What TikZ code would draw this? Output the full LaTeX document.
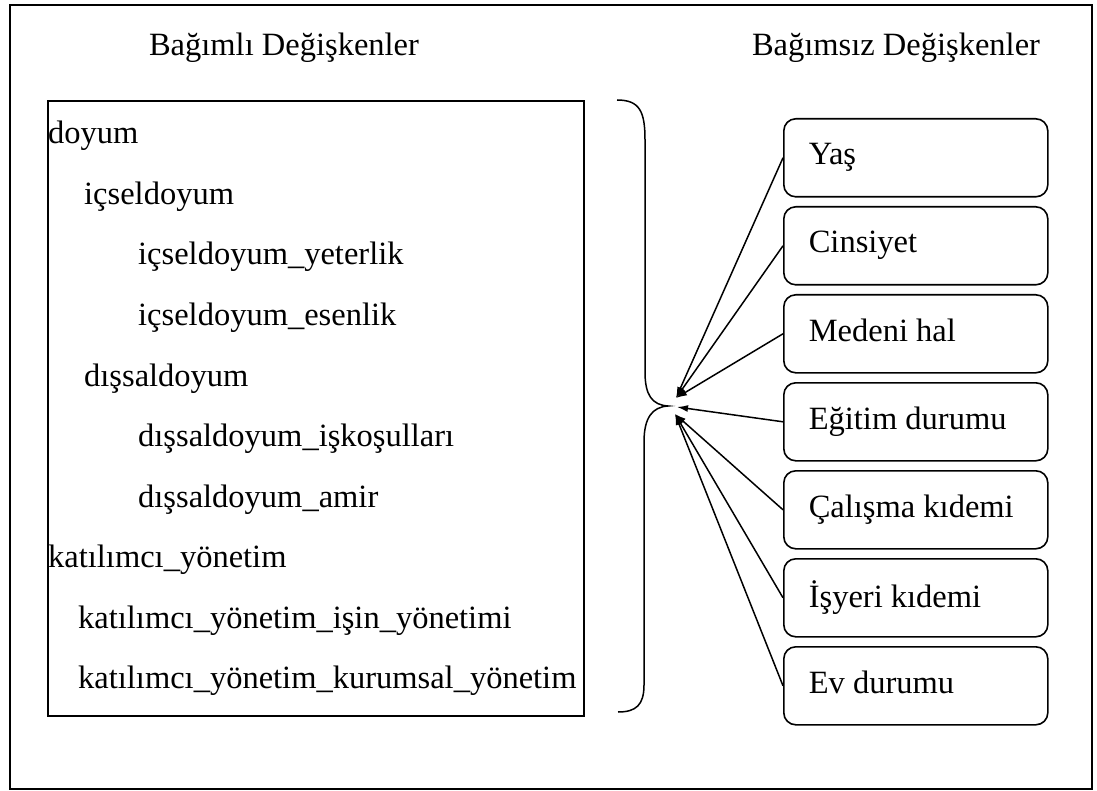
\documentclass[tikz,border=0pt]{standalone}
\usepackage{fontspec}
\setmainfont{Liberation Serif}
\usetikzlibrary{arrows.meta}
\begin{document}
\begin{tikzpicture}[x=1pt,y=-1pt,
  every node/.style={font=\fontsize{32.5}{38}\selectfont},
  frame/.style={draw,line width=1.8pt},
  depbox/.style={draw,line width=1.6pt,minimum width=536pt,minimum height=615pt,anchor=north west,inner sep=0pt},
  line/.style={anchor=base west,inner sep=0pt},
  varbox/.style={draw,line width=1.6pt,rounded corners=12pt,minimum height=78pt,inner xsep=25pt,inner ysep=0pt,anchor=north west},
  title/.style={anchor=base,inner sep=0pt},
  arr/.style={line width=1.5pt,-{Latex[length=11pt,width=7pt]}},
  brace/.style={line width=1.5pt}
]
\useasboundingbox (0,0) rectangle (1097,791);
\draw[frame] (10,5) rectangle (1092,789);

\node[title] (t1) at (284,56) {Bağımlı Değişkenler};
\node[title] (t2) at (896,56) {Bağımsız Değişkenler};

\node[depbox] (dep) at (47,100) {};
\node[line] (l1) at (48,144) {doyum};
\node[line] (l2) at (84,204.5) {içseldoyum};
\node[line] (l3) at (138,265) {içseldoyum\_yeterlik};
\node[line] (l4) at (138,325.5) {içseldoyum\_esenlik};
\node[line] (l5) at (84,386) {dışsaldoyum};
\node[line] (l6) at (138,446.5) {dışsaldoyum\_işkoşulları};
\node[line] (l7) at (138,507) {dışsaldoyum\_amir};
\node[line] (l8) at (48,567.5) {katılımcı\_yönetim};
\node[line] (l9) at (78,628) {katılımcı\_yönetim\_işin\_yönetimi};
\node[line] (l10) at (78,688.5) {katılımcı\_yönetim\_kurumsal\_yönetim};

\draw[brace] (617,100) .. controls (640,100) and (645,112) .. (645,140)
  -- (645,372) .. controls (645,395) and (652,405) .. (668,406)
  .. controls (652,407) and (644,418) .. (644,442)
  -- (644,685) .. controls (644,705) and (636,712) .. (618,712);

\node[varbox] (v1) at (783,118) {\makebox[214pt][l]{\raisebox{8pt}{Yaş}}};
\node[varbox] (v2) at (783,206) {\makebox[214pt][l]{\raisebox{8pt}{Cinsiyet}}};
\node[varbox] (v3) at (783,294) {\makebox[214pt][l]{\raisebox{8pt}{Medeni hal}}};
\node[varbox] (v4) at (783,382) {\makebox[214pt][l]{\raisebox{8pt}{Eğitim durumu}}};
\node[varbox] (v5) at (783,470) {\makebox[214pt][l]{\raisebox{8pt}{Çalışma kıdemi}}};
\node[varbox] (v6) at (783,558) {\makebox[214pt][l]{\raisebox{8pt}{İşyeri kıdemi}}};
\node[varbox] (v7) at (783,646) {\makebox[214pt][l]{\raisebox{8pt}{Ev durumu}}};

\coordinate (tu) at (676,398);
\coordinate (tm) at (677,407);
\coordinate (tl) at (675,414);
\draw[arr] (v1.west) -- (tu);
\draw[arr] (v2.west) -- (tu);
\draw[arr] (v3.west) -- (tu);
\draw[arr] (v4.west) -- (tm);
\draw[arr] (v5.west) -- (tl);
\draw[arr] (v6.west) -- (tl);
\draw[arr] (v7.west) -- (tl);
\end{tikzpicture}
\end{document}
